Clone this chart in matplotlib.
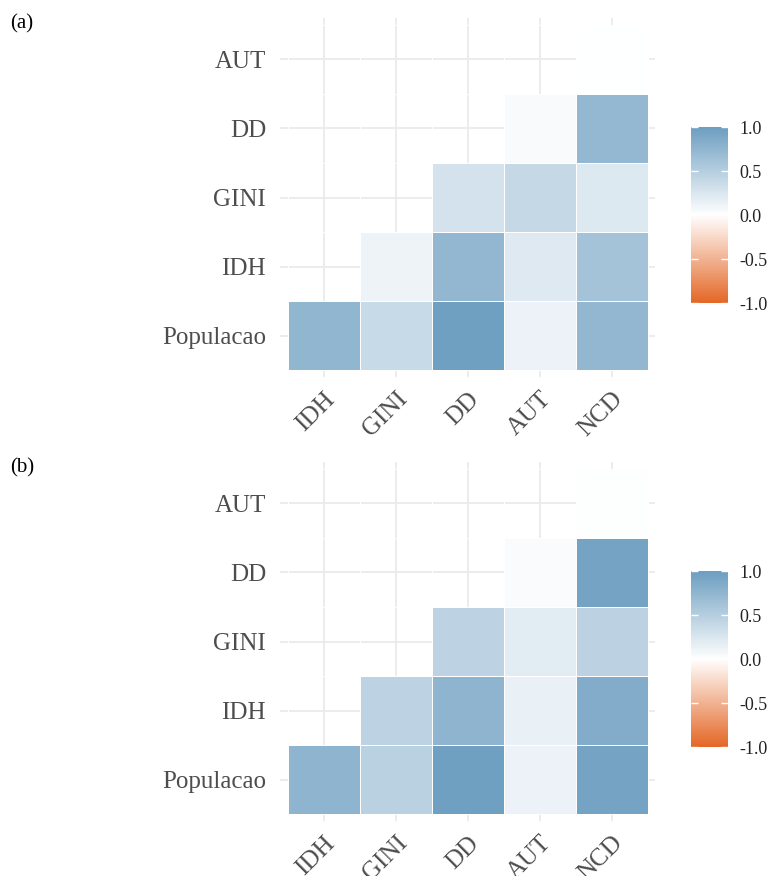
import numpy as np
import matplotlib.pyplot as plt
from matplotlib.colors import LinearSegmentedColormap

# variables, bottom row first
rows = ["Populacao", "IDH", "GINI", "DD", "AUT"]
cols = ["IDH", "GINI", "DD", "AUT", "NCD"]

# lower-triangle correlations, one list per row (columns from the diagonal onward)
corr_a = [
    [0.75, 0.38, 0.98, 0.13, 0.74],
    [0.12, 0.74, 0.22, 0.62],
    [0.30, 0.40, 0.23],
    [0.05, 0.73],
    [0.00],
]
corr_b = [
    [0.77, 0.47, 0.98, 0.13, 0.95],
    [0.45, 0.77, 0.15, 0.85],
    [0.45, 0.20, 0.46],
    [0.04, 0.94],
    [0.01],
]
cbar_ticks = [1.0, 0.5, 0.0, -0.5, -1.0]

plt.rcParams['font.family'] = ['Liberation Serif', 'DejaVu Serif']

W, H = 773, 876
cmap = LinearSegmentedColormap.from_list("corr", ["#E46726", "white", "#6D9EC1"])


def to_matrix(tri):
    m = np.full((len(rows), len(cols)), np.nan)
    for i, vals in enumerate(tri):
        m[i, i:] = vals
    return np.ma.masked_invalid(m)


def box(x0, y0, x1, y1):
    return [x0 / W, 1 - y1 / H, (x1 - x0) / W, (y1 - y0) / H]


fig = plt.figure(figsize=(W / 100, H / 100), dpi=100)

for tri, top, tag in [(corr_a, 18, "(a)"), (corr_b, 462, "(b)")]:
    ax = fig.add_axes(box(280, top, 655, top + 359))
    m = to_matrix(tri)
    ax.pcolormesh(np.arange(len(cols) + 1) - 0.5, np.arange(len(rows) + 1) - 0.5, m,
                  cmap=cmap, vmin=-1, vmax=1, edgecolors="white", linewidth=0.6, zorder=2)
    ax.set_xlim(-0.61, 4.6)
    ax.set_ylim(-0.6, 4.6)
    ax.set_xticks(range(len(cols)))
    ax.set_xticklabels(cols, rotation=45, ha="right", va="top", rotation_mode="anchor")
    ax.set_yticks(range(len(rows)))
    ax.set_yticklabels(rows)
    ax.tick_params(length=0, labelsize=18, labelcolor="#4D4D4D", pad=10)
    ax.tick_params(axis="x", pad=8)
    ax.grid(True, color="#EBEBEB", linewidth=1.3, zorder=0)
    ax.set_axisbelow(True)
    for s in ax.spines.values():
        s.set_visible(False)
    fig.text(10 / W, 1 - (top + 6) / H, tag, fontsize=15, ha="left", va="center")

    # colour bar
    cb_top = top + 109
    cax = fig.add_axes(box(691, cb_top, 728, cb_top + 176))
    grad = np.linspace(-1, 1, 256).reshape(-1, 1)
    cax.imshow(grad, cmap=cmap, vmin=-1, vmax=1, aspect="auto", origin="lower",
               extent=[0, 1, -1, 1])
    cax.set_xlim(0, 1)
    cax.set_ylim(-1, 1)
    cax.set_xticks([])
    cax.set_yticks(cbar_ticks)
    cax.set_yticklabels([f"{t:.1f}" for t in cbar_ticks])
    cax.yaxis.tick_right()
    cax.tick_params(length=0, labelsize=13, labelcolor="#222222", pad=8)
    for t in cbar_ticks:
        cax.hlines(t, 0, 0.2, color="white", linewidth=1)
        cax.hlines(t, 0.8, 1, color="white", linewidth=1)
    for s in cax.spines.values():
        s.set_visible(False)

fig.savefig("out.png", dpi=100, facecolor="white")
